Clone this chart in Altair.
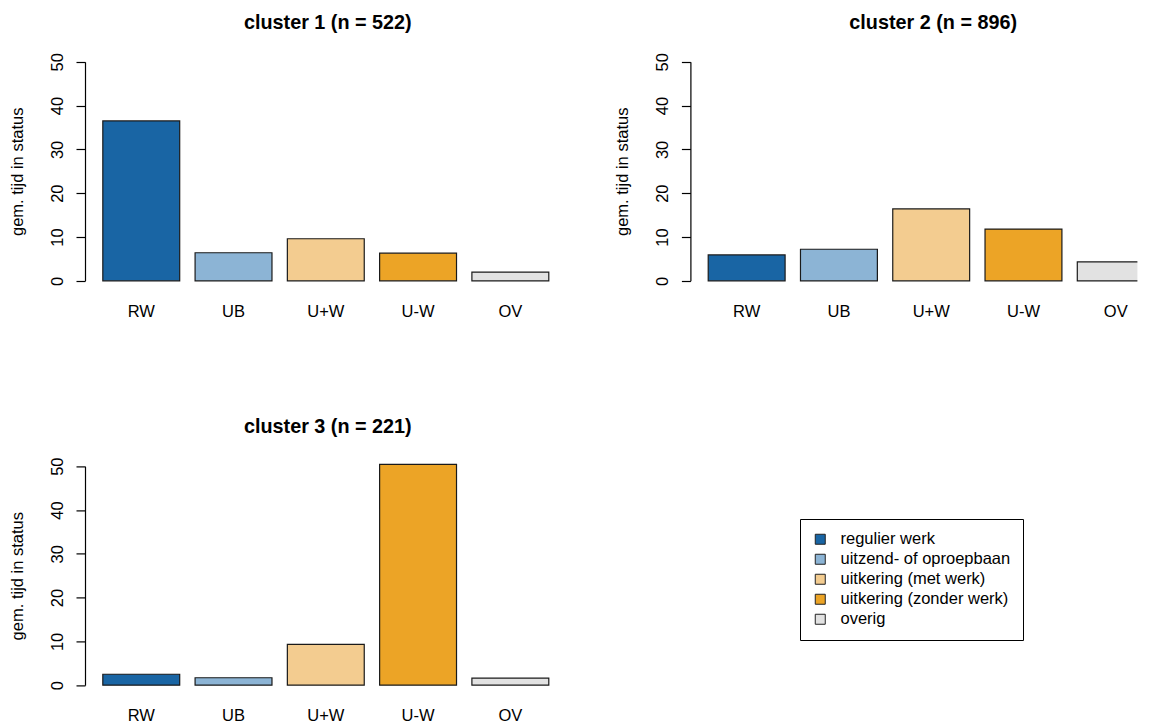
import altair as alt
import pandas as pd

FONT = "Liberation Sans"

codes = ["RW", "UB", "U+W", "U-W", "OV"]
labels = ["regulier werk", "uitzend- of oproepbaan", "uitkering (met werk)",
          "uitkering (zonder werk)", "overig"]
colors = ["#1965a4", "#8cb4d5", "#f3cc90", "#eca426", "#e2e2e2"]
titles = ["cluster 1 (n = 522)", "cluster 2 (n = 896)", "cluster 3 (n = 221)"]
cluster1 = [36.5, 6.4, 9.6, 6.3, 2.0]
cluster2 = [5.9, 7.2, 16.4, 11.8, 4.3]
cluster3 = [2.5, 1.7, 9.3, 50.4, 1.6]
y_ticks = [0, 10, 20, 30, 40, 50]

H = 236.6
XR = 481.6
Y0 = 227.8
Y1 = 8.8


def panel(title, vals, width, title_dx):
    df = pd.DataFrame({"code": codes, "status": labels, "value": vals})
    xenc = alt.X("code:N", sort=codes,
                 scale=alt.Scale(domain=codes, range=[0, XR],
                                 paddingInner=1 / 6, paddingOuter=0.193),
                 axis=None)
    base = alt.Chart(df)
    bars = base.mark_bar(stroke="#1a1a1a", strokeWidth=1.2, clip=True).encode(
        x=xenc,
        y=alt.Y("value:Q",
                scale=alt.Scale(domain=[0, 50], range=[Y0, Y1], nice=False,
                                zero=True),
                axis=alt.Axis(values=y_ticks, title="gem. tijd in status",
                              grid=False, domainColor="#000", domainWidth=1.2,
                              tickColor="#000", tickWidth=1.2, tickSize=9,
                              labelAngle=270, labelAlign="center",
                              labelBaseline="alphabetic", labelPadding=14,
                              labelFontSize=16.5, labelFont=FONT,
                              labelColor="#000",
                              titleAngle=270, titleX=-63, titleY=H / 2,
                              titleAlign="center", titleBaseline="alphabetic",
                              titleFontSize=16.5, titleFontWeight="normal",
                              titleFont=FONT, titleColor="#000")),
        color=alt.Color("status:N", sort=labels,
                        scale=alt.Scale(domain=labels, range=colors),
                        legend=alt.Legend(title=None, orient="none",
                                          legendX=715, legendY=466)),
    )
    names = base.mark_text(fontSize=16.5, font=FONT, color="#000",
                           baseline="alphabetic", align="center").encode(
        x=xenc,
        y=alt.value(Y0 + 36),
        text="code:N",
    )
    return alt.layer(
        bars, names,
        title=alt.Title(title, fontSize=19.8, fontWeight="bold", font=FONT,
                        color="#000", offset=4, baseline="alphabetic",
                        dx=title_dx, frame="group", anchor="middle"),
    ).properties(width=width, height=H)


p1 = panel(titles[0], cluster1, XR, 2)
p2 = panel(titles[1], cluster2, 447, 19.3)
p3 = panel(titles[2], cluster3, XR, 2)

chart = alt.concat(
    p1, p2, p3, columns=2, bounds="flush",
    spacing={"row": 167.4, "column": 123.4},
).properties(
    padding={"left": 0, "top": 4, "right": 0, "bottom": 0},
    background="white",
).configure_view(stroke=None).configure_legend(
    strokeColor="#000", strokeWidth=1, fillColor="white", padding=12,
    symbolType="square", symbolSize=100, symbolStrokeColor="#222",
    symbolStrokeWidth=1, labelFontSize=16.5, labelFont=FONT,
    labelColor="#000", rowPadding=3, labelOffset=12, cornerRadius=0,
    symbolOpacity=1, labelLimit=0,
)

chart.save("out.html", embed_options={"renderer": "svg", "actions": False})
